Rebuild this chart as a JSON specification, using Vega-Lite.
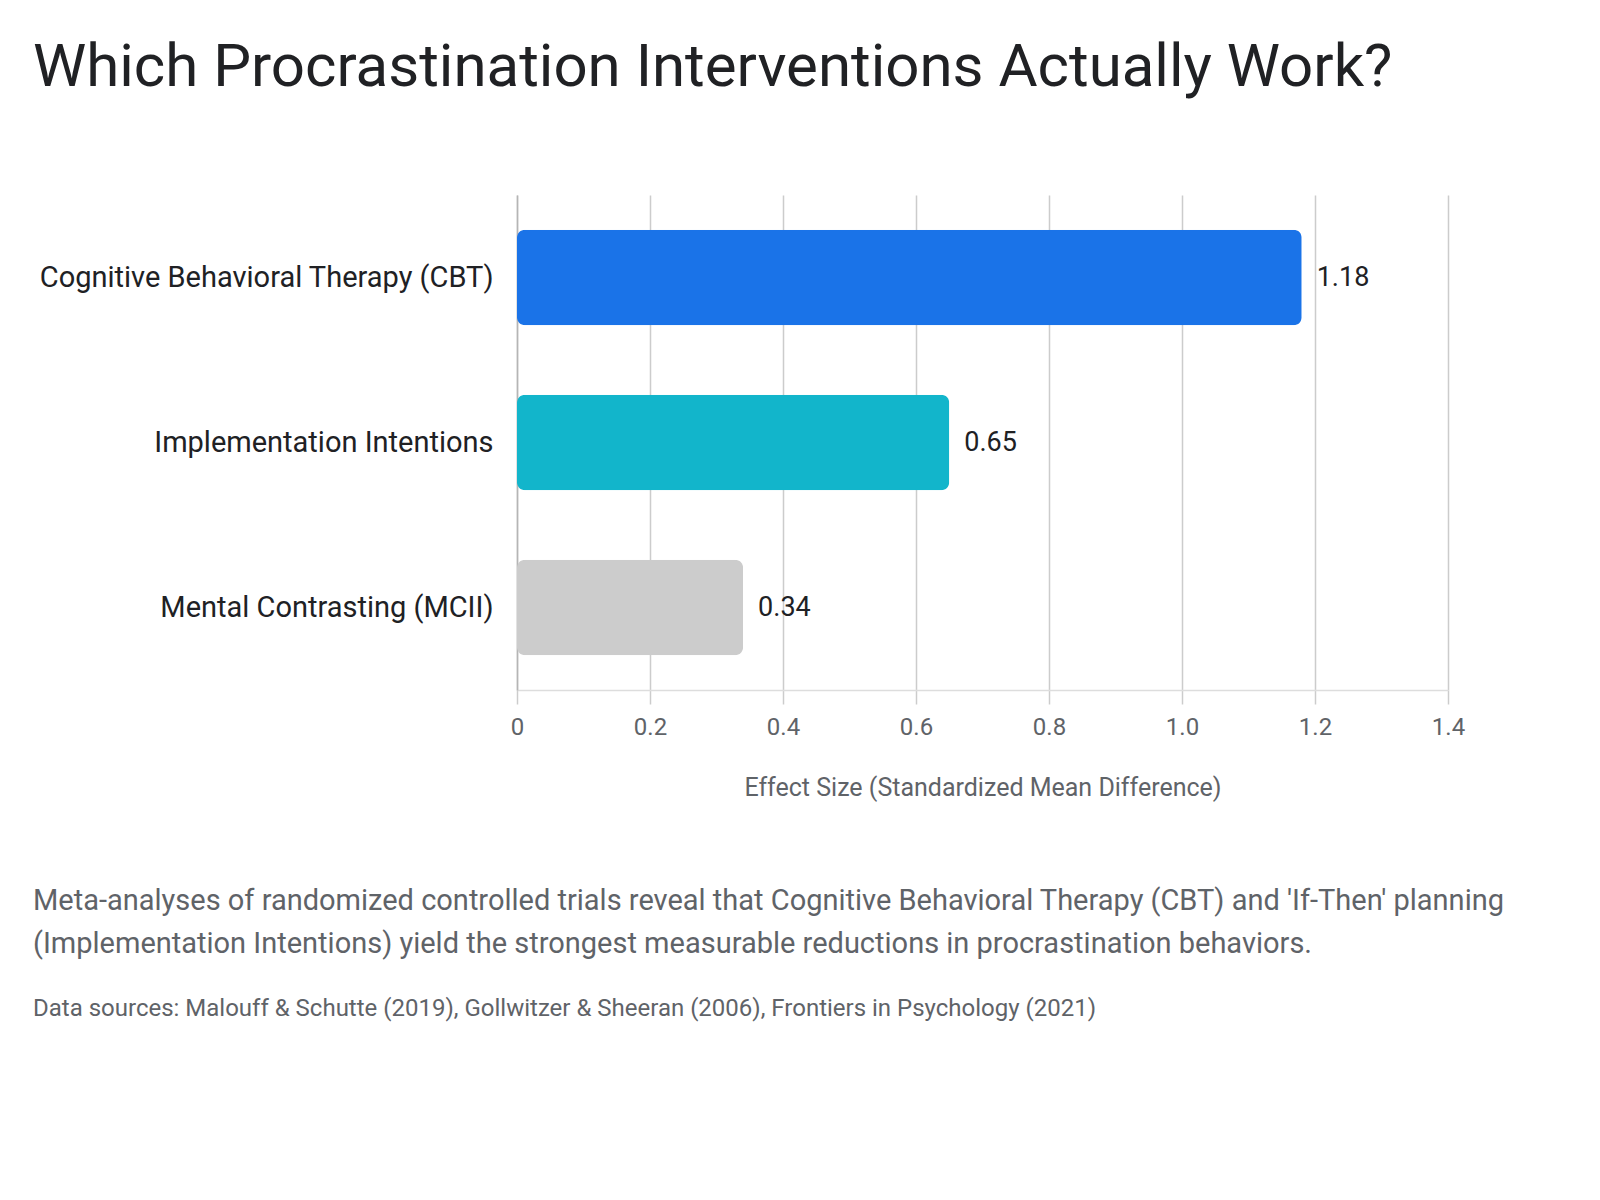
{
  "$schema": "https://vega.github.io/schema/vega-lite/v6.json",
  "background": "#ffffff",
  "padding": {"left": 33, "top": 38, "right": 20, "bottom": 20},
  "title": {
    "text": "Which Procrastination Interventions Actually Work?",
    "anchor": "start",
    "fontSize": 60,
    "fontWeight": "normal",
    "font": "Roboto",
    "color": "#202124",
    "offset": 96
  },
  "config": {
    "view": {"stroke": null},
    "font": "Roboto"
  },
  "vconcat": [
    {
      "width": 931,
      "height": 495,
      "data": {
        "values": [
          {"intervention": "Cognitive Behavioral Therapy (CBT)", "effect": 1.18},
          {"intervention": "Implementation Intentions", "effect": 0.65},
          {"intervention": "Mental Contrasting (MCII)", "effect": 0.34}
        ]
      },
      "encoding": {
        "y": {
          "field": "intervention",
          "type": "nominal",
          "sort": null,
          "title": null,
          "scale": {"paddingInner": 0.42, "paddingOuter": 0.21},
          "axis": {
            "ticks": false,
            "labelFontSize": 29,
            "labelColor": "#202124",
            "labelPadding": 24,
            "labelLimit": 600,
            "domain": true,
            "domainColor": "#b5b5b5",
            "domainWidth": 1.5
          }
        },
        "x": {
          "field": "effect",
          "type": "quantitative",
          "title": "Effect Size (Standardized Mean Difference)",
          "scale": {"domain": [0, 1.4], "nice": false},
          "axis": {
            "values": [0, 0.2, 0.4, 0.6, 0.8, 1.0, 1.2, 1.4],
            "labelExpr": "datum.value == 0 ? '0' : format(datum.value, '.1f')",
            "labelFlush": false,
            "grid": true,
            "gridColor": "#cccccc",
            "gridWidth": 1.5,
            "domainColor": "#dddddd",
            "domainWidth": 1.5,
            "tickColor": "#cccccc",
            "tickWidth": 1.5,
            "tickSize": 14,
            "labelFontSize": 24,
            "labelColor": "#5f6368",
            "labelPadding": 11,
            "titleFontSize": 25,
            "titleFontWeight": "normal",
            "titleColor": "#5f6368",
            "titlePadding": 36
          }
        }
      },
      "layer": [
        {
          "mark": {"type": "bar", "cornerRadius": 8},
          "encoding": {
            "color": {
              "field": "intervention",
              "type": "nominal",
              "legend": null,
              "scale": {
                "domain": ["Cognitive Behavioral Therapy (CBT)", "Implementation Intentions", "Mental Contrasting (MCII)"],
                "range": ["#1a73e8", "#12b5cb", "#cccccc"]
              }
            }
          }
        },
        {
          "mark": {"type": "text", "align": "left", "baseline": "middle", "dx": 15, "fontSize": 27, "color": "#202124"},
          "encoding": {
            "text": {"field": "effect", "type": "quantitative", "format": ".2f"}
          }
        }
      ]
    },
    {
      "width": 900,
      "height": 1,
      "data": {"values": [{"t": ""}]},
      "mark": {"type": "text"},
      "encoding": {"text": {"field": "t", "type": "nominal"}},
      "title": {
        "text": [
          "Meta-analyses of randomized controlled trials reveal that Cognitive Behavioral Therapy (CBT) and 'If-Then' planning",
          "(Implementation Intentions) yield the strongest measurable reductions in procrastination behaviors."
        ],
        "anchor": "start",
        "dx": -484,
        "fontSize": 29,
        "lineHeight": 43,
        "fontWeight": "normal",
        "color": "#5f6368",
        "subtitle": "Data sources: Malouff & Schutte (2019), Gollwitzer & Sheeran (2006), Frontiers in Psychology (2021)",
        "subtitleFontSize": 24,
        "subtitleColor": "#5f6368",
        "subtitlePadding": 38,
        "offset": 0
      }
    }
  ],
  "spacing": 86
}
